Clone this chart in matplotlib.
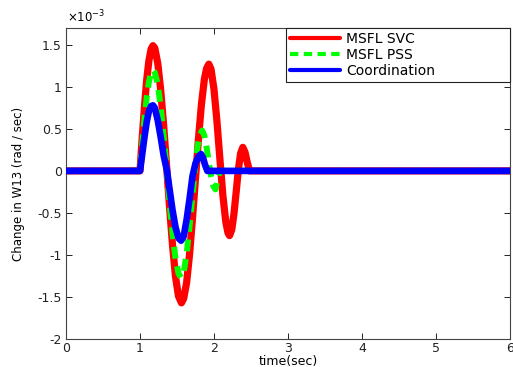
import matplotlib
matplotlib.use("Agg")
import matplotlib.pyplot as plt
from matplotlib.ticker import FuncFormatter, MultipleLocator

plt.rcParams['font.family'] = ['DejaVu Sans']

# Speed deviation of W13 (values in units of 1e-3 rad/sec)
t_svc = [0.0, 1.00, 1.03, 1.06, 1.09, 1.12, 1.15, 1.175, 1.20, 1.24, 1.28, 1.32, 1.36,
         1.40, 1.44, 1.48, 1.52, 1.56, 1.59, 1.63, 1.67, 1.71, 1.75, 1.79, 1.83,
         1.87, 1.90, 1.93, 1.96, 2.00, 2.04, 2.08, 2.12, 2.16, 2.19, 2.21, 2.24,
         2.27, 2.30, 2.33, 2.36, 2.39, 2.42, 2.45, 2.48, 6.0]
w_svc = [0.0, 0.0, 0.40, 0.76, 1.08, 1.31, 1.45, 1.49, 1.46, 1.28, 0.96, 0.54, 0.05,
         -0.44, -0.89, -1.26, -1.49, -1.57, -1.52, -1.33, -0.99, -0.56, -0.09, 0.38, 0.79,
         1.09, 1.22, 1.27, 1.21, 0.97, 0.59, 0.14, -0.29, -0.61, -0.74, -0.77, -0.70,
         -0.51, -0.25, 0.02, 0.21, 0.28, 0.22, 0.10, 0.0, 0.0]

t_pss = [0.0, 1.00, 1.03, 1.06, 1.09, 1.12, 1.15, 1.175, 1.20, 1.24, 1.28, 1.32, 1.36,
         1.40, 1.44, 1.48, 1.52, 1.555, 1.59, 1.63, 1.67, 1.71, 1.75, 1.78, 1.81,
         1.84, 1.87, 1.90, 1.93, 1.96, 1.99, 2.02, 2.05, 2.08, 6.0]
w_pss = [0.0, 0.0, 0.32, 0.62, 0.87, 1.06, 1.17, 1.20, 1.17, 1.03, 0.76, 0.41, 0.02,
         -0.39, -0.75, -1.04, -1.22, -1.27, -1.21, -0.99, -0.66, -0.28, 0.08, 0.30, 0.43,
         0.48, 0.42, 0.28, 0.10, -0.06, -0.18, -0.22, -0.10, 0.0, 0.0]

t_coord = [0.0, 1.00, 1.03, 1.06, 1.09, 1.12, 1.15, 1.175, 1.20, 1.24, 1.28, 1.32, 1.365,
           1.40, 1.44, 1.48, 1.52, 1.555, 1.59, 1.63, 1.67, 1.71, 1.75, 1.79, 1.825,
           1.85, 1.88, 1.91, 6.0]
w_coord = [0.0, 0.0, 0.20, 0.40, 0.58, 0.71, 0.77, 0.78, 0.75, 0.60, 0.40, 0.18, 0.0,
           -0.22, -0.47, -0.67, -0.80, -0.83, -0.78, -0.58, -0.33, -0.06, 0.09, 0.17, 0.20,
           0.16, 0.07, 0.0, 0.0]

labels = ['MSFL SVC', 'MSFL PSS', 'Coordination']
scale = 1e-3

fig = plt.figure(figsize=(5.13, 3.67), dpi=100)
ax = fig.add_axes([0.1287, 0.0763, 0.8653, 0.8474])

ax.plot(t_svc, [v * scale for v in w_svc], color='#ff0000', lw=5.2,
        solid_capstyle='round', solid_joinstyle='round', label=labels[0], zorder=2)
ax.plot(t_pss, [v * scale for v in w_pss], color='#00ff00', lw=4.3,
        dashes=(2.0, 1.3), dash_capstyle='butt', label=labels[1], zorder=3)
ax.plot(t_coord, [v * scale for v in w_coord], color='#0000ff', lw=4.8,
        solid_capstyle='round', solid_joinstyle='round', label=labels[2], zorder=4)

ax.set_xlim(0, 6)
ax.set_ylim(-2e-3, 1.7e-3)
ax.xaxis.set_major_locator(MultipleLocator(1))
ax.yaxis.set_major_locator(MultipleLocator(0.5e-3))
ax.yaxis.set_major_formatter(FuncFormatter(lambda v, p: f'{v / scale:g}'))
ax.xaxis.set_major_formatter(FuncFormatter(lambda v, p: f'{v:g}'))

ax.tick_params(direction='in', length=4, width=0.7, top=True, right=True,
               labelsize=9, colors='#222222')
ax.tick_params(axis='x', pad=2)
ax.tick_params(axis='y', pad=3)
for s in ax.spines.values():
    s.set_linewidth(0.8)
    s.set_color('#444444')

ax.text(0.003, 1.008, r'$\times10^{-3}$', transform=ax.transAxes, fontsize=8.5,
        ha='left', va='bottom')

ax.set_xlabel('time(sec)', fontsize=9, labelpad=0.5)
ax.set_ylabel('Change in W13 (rad / sec)', fontsize=8.5, labelpad=9)

leg = ax.legend(loc='upper right', bbox_to_anchor=(0.4955, 0.0, 0.5045, 1.0),
                mode='expand', borderaxespad=0, fontsize=10, handlelength=3.6,
                handletextpad=0.45, labelspacing=0.12, borderpad=0.3, fancybox=False,
                framealpha=1, edgecolor='#222222')
leg.get_frame().set_linewidth(0.8)
for h in leg.get_lines():
    h.set_linewidth(3)

fig.savefig('out.png', dpi=100)
